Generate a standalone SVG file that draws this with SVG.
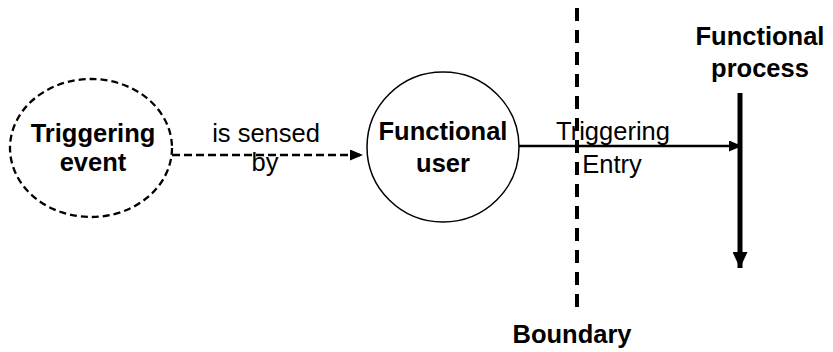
<svg xmlns="http://www.w3.org/2000/svg" width="833" height="352" viewBox="0 0 833 352">
<defs>
<style>
text{font-family:"Liberation Sans",Arial,sans-serif;font-size:25.5px;fill:#000;text-anchor:middle}
.b{font-weight:bold}
.ln{fill:none;stroke:#000}
</style>
<marker id="ah" viewBox="0 0 10 10" refX="10" refY="5" markerWidth="13" markerHeight="11" markerUnits="userSpaceOnUse" orient="auto" preserveAspectRatio="none"><path d="M0,0L10,5L0,10z" fill="#000"/></marker>
<marker id="ahBig" viewBox="0 0 10 10" refX="10" refY="5" markerWidth="16" markerHeight="15" markerUnits="userSpaceOnUse" orient="auto" preserveAspectRatio="none"><path d="M0,0L10,5L0,10z" fill="#000"/></marker>
</defs>
<rect width="833" height="352" fill="#fff"/>
<g id="boundary">
<line class="ln" x1="577" y1="8" x2="577" y2="312" stroke-width="4" stroke-dasharray="13,9"/>
<text class="b" x="572" y="343">Boundary</text>
</g>
<g id="triggering-event">
<ellipse class="ln" cx="91" cy="148" rx="81" ry="69" stroke-width="2.3" stroke-dasharray="7,4"/>
<text class="b" x="93" y="142">Triggering</text>
<text class="b" x="93" y="171">event</text>
</g>
<g id="functional-user">
<ellipse class="ln" cx="443" cy="147" rx="76" ry="75" stroke-width="1.5"/>
<text class="b" x="443" y="140">Functional</text>
<text class="b" x="443" y="172">user</text>
</g>
<g id="functional-process">
<line class="ln" x1="740" y1="93" x2="740" y2="268" stroke-width="5" marker-end="url(#ahBig)"/>
<text class="b" x="760" y="45">Functional</text>
<text class="b" x="760" y="77">process</text>
</g>
<g id="connectors">
<line class="ln" x1="172" y1="155" x2="363" y2="155" stroke-width="2.3" stroke-dasharray="8,4" marker-end="url(#ah)"/>
<text x="266" y="142">is sensed</text>
<text x="265" y="171">by</text>
<line class="ln" x1="519" y1="146" x2="742" y2="146" stroke-width="2.5" marker-end="url(#ah)"/>
<text x="613" y="140">Triggering</text>
<text x="612" y="173">Entry</text>
</g>
</svg>
